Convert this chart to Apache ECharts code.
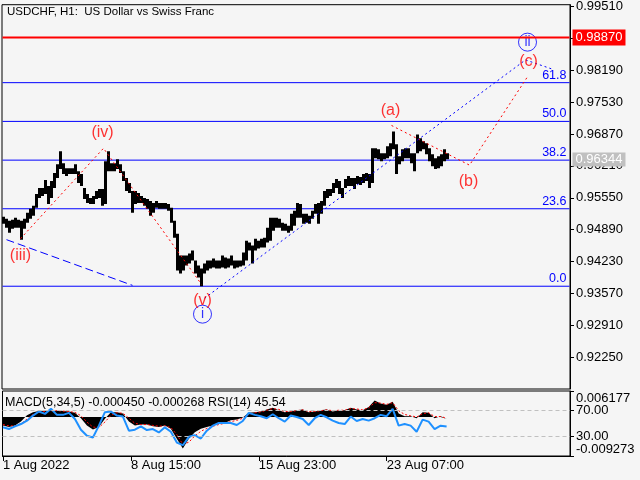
<!DOCTYPE html>
<html><head><meta charset="utf-8">
<script src="https://cdn.jsdelivr.net/npm/echarts@6/dist/echarts.min.js"></script>
<style>html,body{margin:0;padding:0;background:#f5f5f5}#c{width:640px;height:480px}</style>
</head><body><div id="c"></div>
<script>
// ---- time axis ----
const timeTickLabels = ['1 Aug 2022', '8 Aug 15:00', '15 Aug 23:00', '23 Aug 07:00'];
const timeTickHours = [0, 128, 256, 384];
const totalHours = 568;
const barStepHours = 3;      // each drawn price bar covers 3 H1 bars
const indicatorStepHours = 6;

// ---- price (high / low of each 3-hour block) ----
const highs = [
0.95156,0.95114,0.95073,0.95094,0.95135,0.95094,0.95073,0.95114,0.95238,0.95320,
0.95382,0.95629,0.95752,0.95752,0.95917,0.95793,0.95896,0.96060,0.96245,0.96513,
0.96266,0.96163,0.96163,0.96163,0.96245,0.96101,0.96040,0.95752,0.95629,0.95546,
0.95588,0.95690,0.95731,0.95731,0.96307,0.96513,0.96266,0.96266,0.96348,0.96245,
0.96101,0.95958,0.95855,0.95690,0.95690,0.95649,0.95588,0.95546,0.95526,0.95484,
0.95443,0.95484,0.95443,0.95443,0.95443,0.95423,0.95341,0.95073,0.94806,0.94353,
0.94353,0.94353,0.94395,0.94456,0.94251,0.94148,0.94086,0.94189,0.94251,0.94251,
0.94292,0.94251,0.94251,0.94353,0.94312,0.94292,0.94353,0.94251,0.94251,0.94251,
0.94415,0.94662,0.94621,0.94559,0.94703,0.94662,0.94703,0.94724,0.94929,0.95135,
0.95135,0.95135,0.95114,0.95032,0.95012,0.94970,0.95217,0.95279,0.95443,0.95423,
0.95217,0.95217,0.95176,0.95279,0.95423,0.95443,0.95484,0.95690,0.95731,0.95731,
0.95855,0.95937,0.95896,0.95752,0.95937,0.95999,0.95958,0.95958,0.95999,0.95978,
0.96040,0.96060,0.96040,0.96574,0.96574,0.96554,0.96471,0.96471,0.96615,0.96677,
0.96924,0.96656,0.96410,0.96554,0.96574,0.96574,0.96471,0.96471,0.96862,0.96780,
0.96718,0.96677,0.96574,0.96451,0.96369,0.96410,0.96451,0.96554,0.96471];
const lows = [
0.95012,0.94929,0.94826,0.94909,0.94929,0.94929,0.94682,0.94909,0.95032,0.95114,
0.95176,0.95341,0.95546,0.95588,0.95629,0.95423,0.95546,0.95752,0.95958,0.96143,
0.96040,0.95999,0.96040,0.96040,0.96040,0.95855,0.95793,0.95526,0.95443,0.95423,
0.95423,0.95526,0.95546,0.95382,0.95423,0.96101,0.96101,0.96101,0.96143,0.96060,
0.95896,0.95690,0.95649,0.95238,0.95423,0.95443,0.95443,0.95382,0.95320,0.95176,
0.95238,0.95341,0.95320,0.95320,0.95320,0.95279,0.95032,0.94724,0.94045,0.93983,
0.94045,0.94148,0.94189,0.94251,0.93983,0.93901,0.93716,0.93983,0.94045,0.94086,
0.94107,0.94086,0.94086,0.94107,0.94086,0.94107,0.94148,0.94086,0.94107,0.94127,
0.94148,0.94251,0.94456,0.94189,0.94456,0.94497,0.94518,0.94518,0.94621,0.94662,
0.94868,0.94929,0.94929,0.94868,0.94868,0.94826,0.94868,0.94970,0.95135,0.95135,
0.95012,0.95032,0.95012,0.95114,0.95217,0.95012,0.95217,0.95382,0.95546,0.95588,
0.95649,0.95752,0.95629,0.95546,0.95752,0.95793,0.95793,0.95731,0.95834,0.95814,
0.95855,0.95896,0.95752,0.95855,0.96369,0.96348,0.96307,0.96348,0.96369,0.96410,
0.96554,0.96040,0.96245,0.96307,0.96369,0.96369,0.96266,0.96101,0.96471,0.96513,
0.96554,0.96451,0.96307,0.96204,0.96143,0.96163,0.96204,0.96307,0.96348];

// ---- indicators (one value every 6 hours) ----
const macdMain = [
-0.0020,-0.0024,-0.0020,-0.0011,0.0004,0.0011,0.0014,0.0015,0.0016,0.0015,
0.0014,0.0013,0.0010,-0.0003,-0.0020,-0.0030,-0.0024,-0.0004,0.0011,0.0011,
0.0008,-0.0011,-0.0020,-0.0018,-0.0018,-0.0022,-0.0024,-0.0020,-0.0028,-0.0052,
-0.0075,-0.0052,-0.0036,-0.0028,-0.0024,-0.0020,-0.0016,-0.0014,-0.0008,-0.0006,
-0.0001,0.0010,0.0011,0.0013,0.0018,0.0022,0.0016,0.0011,0.0013,0.0016,
0.0018,0.0011,0.0013,0.0016,0.0018,0.0013,0.0016,0.0016,0.0022,0.0018,
0.0016,0.0024,0.0039,0.0032,0.0029,0.0036,0.0008,0.0002,0.0002,-0.0003,
0.0011,0.0010,-0.0003,0.0002,-0.00045];
const macdSignal = [
-0.0018,-0.0021,-0.0021,-0.0016,-0.0005,0.0006,0.0011,0.0013,0.0015,0.0015,
0.0014,0.0013,0.0011,0.0003,-0.0012,-0.0024,-0.0025,-0.0012,0.0004,0.0010,
0.0009,-0.0003,-0.0015,-0.0018,-0.0018,-0.0020,-0.0022,-0.0021,-0.0025,-0.0042,
-0.0065,-0.0060,-0.0045,-0.0034,-0.0027,-0.0022,-0.0018,-0.0015,-0.0011,-0.0008,
-0.0003,0.0006,0.0010,0.0012,0.0016,0.0020,0.0018,0.0013,0.0013,0.0015,
0.0017,0.0013,0.0013,0.0015,0.0017,0.0015,0.0016,0.0016,0.0020,0.0019,
0.0017,0.0022,0.0034,0.0033,0.0030,0.0034,0.0015,0.0006,0.0003,0.0000,
0.0008,0.0010,0.0001,0.0001,-0.000268];
const rsi = [
44.1,41.5,45.6,49.2,54.4,62.2,68.4,64.8,72.6,63.3,
63.3,66.4,57.0,40.4,31.1,28.5,46.7,67.4,68.4,62.2,
60.7,38.9,40.4,45.6,39.9,41.5,36.3,44.1,37.3,20.7,
16.6,29.5,32.1,26.9,38.9,46.7,50.8,50.8,50.8,47.7,
53.9,66.4,63.3,61.2,58.1,64.3,58.1,52.9,62.2,60.1,
57.0,47.7,58.1,63.3,59.6,54.4,50.8,49.2,60.7,53.9,
57.0,54.4,58.1,63.3,61.2,72.6,46.7,49.2,46.7,37.3,
56.0,52.9,41.5,46.7,45.54];

// ---- axis ticks and levels ----
const priceTicks = [0.9225,0.9291,0.9357,0.9423,0.9489,0.9555,0.9621,0.9687,0.9753,0.9819,0.9885,0.9951];
const priceMin = 0.9159, priceMax = 0.99547;
const rsiLevels = [30, 70];
const macdMin = -0.009273, macdMax = 0.006177;
const fibNames = ['0.0', '23.6', '38.2', '50.0', '61.8'];
const fibPrices = [0.93718, 0.95322, 0.96329, 0.97131, 0.97933];
const resistancePrice = 0.98870;
const lastPrice = 0.96344;

// ---- wave annotations: [hour index, price] ----
const impulseWave = [[18, 0.94703], [101, 0.96574], [199, 0.93757]];
const correctionWave = [[389, 0.97047], [467, 0.96225], [525, 0.98055]];
const waveIIPath = [[202, 0.93469], [523, 0.98404], [549, 0.98219]];
const channelLine = [[4, 0.94682], [130, 0.93736]];
const waveTexts = ['(iii)', '(iv)', '(v)', '(a)', '(b)', '(c)'];
const waveTextHours = [18, 100, 200, 388, 466, 526];
const waveTextPrices = [0.94354, 0.96903, 0.93428, 0.97355, 0.95875, 0.98363];
const circledTexts = ['i', 'ii'];
const circledHours = [200, 525];
const circledPrices = [0.93140, 0.98772];

const FONT = 'Liberation Sans, Arial, sans-serif';
const cats = new Array(totalHours).fill('');
timeTickHours.forEach((h, k) => { cats[h] = timeTickLabels[k]; });
const barData = highs.map((h, i) => [i * barStepHours, h, lows[i]]);
const toInd = arr => arr.map((v, i) => [i * indicatorStepHours, v]);
const flatLine = p => [[0, p], [totalHours - 1, p]];

const chart = echarts.init(document.getElementById('c'), null, {renderer: 'canvas'});
const levelSeries = [];
levelSeries.push({type: 'line', xAxisIndex: 0, yAxisIndex: 0, data: flatLine(lastPrice), symbol: 'none', silent: true, z: 0,
  lineStyle: {width: 0, color: 'rgba(0,0,0,0)'}, itemStyle: {color: 'rgba(0,0,0,0)'},
  endLabel: {show: true, formatter: lastPrice.toFixed(5), color: '#fff', backgroundColor: '#c0c0c0',
             padding: [1, 3, 0, 3], fontSize: 13, fontFamily: FONT, distance: 3}});
fibPrices.forEach((p, k) => {
  levelSeries.push({type: 'line', xAxisIndex: 0, yAxisIndex: 0, data: flatLine(p), symbol: 'none', silent: true, z: 1,
    lineStyle: {color: '#0000ff', width: 1},
    endLabel: {show: true, formatter: fibNames[k], color: '#0000ff', fontSize: 12.5, fontFamily: FONT,
               align: 'right', verticalAlign: 'bottom', offset: [-3, -1], distance: 0}});
});
levelSeries.push({type: 'line', xAxisIndex: 0, yAxisIndex: 0, data: flatLine(resistancePrice), symbol: 'none', silent: true, z: 6,
  lineStyle: {color: '#ff0000', width: 2},
  endLabel: {show: true, formatter: resistancePrice.toFixed(5), color: '#fff', backgroundColor: '#ff0000',
             padding: [2, 3, 1, 3], fontSize: 13, fontFamily: FONT, distance: 3}});

const option = {
  animation: false,
  backgroundColor: '#f5f5f5',
  textStyle: {fontFamily: FONT},
  title: [
    {text: 'USDCHF, H1:  US Dollar vs Swiss Franc', left: 7, top: 6, padding: 0,
     textStyle: {fontSize: 11.5, fontWeight: 'normal', color: '#000', fontFamily: FONT}},
    {text: 'MACD(5,34,5) -0.000450 -0.000268 RSI(14) 45.54', left: 5, top: 396, padding: 0,
     textStyle: {fontSize: 12.5, fontWeight: 'normal', color: '#000', fontFamily: FONT}}
  ],
  grid: [
    {left: 2, right: 70, top: 2, height: 387, show: true, borderColor: '#000', borderWidth: 1},
    {left: 2, right: 70, top: 391, height: 65, show: true, borderColor: '#000', borderWidth: 1}
  ],
  xAxis: [
    {type: 'category', gridIndex: 0, data: cats, boundaryGap: true, show: false},
    {type: 'category', gridIndex: 1, data: cats, boundaryGap: true,
     axisLine: {show: true, lineStyle: {color: '#000'}},
     axisTick: {show: true, alignWithLabel: true, interval: (i, v) => v !== '', length: 5, lineStyle: {color: '#000'}},
     axisLabel: {show: true, interval: (i, v) => v !== '', align: 'left', margin: 3, fontSize: 13, color: '#000', fontFamily: FONT},
     splitLine: {show: false}}
  ],
  yAxis: [
    {type: 'value', gridIndex: 0, position: 'right', min: priceMin, max: priceMax,
     axisLine: {show: true, lineStyle: {color: '#000'}},
     axisTick: {show: true, customValues: priceTicks, length: 4, lineStyle: {color: '#000'}},
     axisLabel: {customValues: priceTicks, formatter: v => v.toFixed(5), fontSize: 13, color: '#000', margin: 6, fontFamily: FONT},
     splitLine: {show: false}},
    {type: 'value', gridIndex: 1, position: 'right', min: 0, max: 100,
     axisLine: {show: true, lineStyle: {color: '#000'}},
     axisTick: {show: true, customValues: rsiLevels, length: 4, lineStyle: {color: '#000'}},
     axisLabel: {customValues: rsiLevels, formatter: v => v.toFixed(2), fontSize: 13, color: '#000', margin: 6, fontFamily: FONT},
     splitLine: {show: false}},
    {type: 'value', gridIndex: 1, position: 'right', min: macdMin, max: macdMax,
     axisLine: {show: false},
     axisTick: {show: true, customValues: [macdMin, macdMax], length: 4, lineStyle: {color: '#000'}},
     axisLabel: {customValues: [macdMin, macdMax], fontSize: 13, color: '#000', margin: 6, fontFamily: FONT,
       formatter: v => v > 0 ? '{t|' + v.toFixed(6) + '}' : '{b|' + v.toFixed(6) + '}',
       rich: {t: {padding: [14, 0, 0, 0], fontSize: 13, fontFamily: FONT}, b: {padding: [0, 0, 14, 0], fontSize: 13, fontFamily: FONT}}},
     splitLine: {show: false}}
  ],
  series: levelSeries.concat([
    {type: 'custom', xAxisIndex: 0, yAxisIndex: 0, data: barData, encode: {x: 0, y: [1, 2]}, clip: true, z: 3,
     renderItem: (params, api) => {
       const c = api.value(0);
       const p1 = api.coord([c, api.value(1)]);
       const p2 = api.coord([c, api.value(2)]);
       const bw = api.size([1, 0])[0];
       return {type: 'rect', shape: {x: p1[0] - bw / 2, y: p1[1], width: bw * barStepHours, height: Math.max(1, p2[1] - p1[1])},
               style: {fill: '#000'}};
     }},
    {type: 'line', xAxisIndex: 0, yAxisIndex: 0, data: impulseWave, symbol: 'none', silent: true, z: 4,
     lineStyle: {color: '#ff0000', width: 1, type: [2, 3]}},
    {type: 'line', xAxisIndex: 0, yAxisIndex: 0, data: correctionWave, symbol: 'none', silent: true, z: 4,
     lineStyle: {color: '#ff0000', width: 1, type: [2, 3]}},
    {type: 'line', xAxisIndex: 0, yAxisIndex: 0, data: waveIIPath, symbol: 'none', silent: true, z: 4,
     lineStyle: {color: '#0000ff', width: 1, type: [2, 3]}},
    {type: 'line', xAxisIndex: 0, yAxisIndex: 0, data: channelLine, symbol: 'none', silent: true, z: 4,
     lineStyle: {color: '#0000ff', width: 1, type: [8, 4]}},
    {type: 'scatter', xAxisIndex: 0, yAxisIndex: 0, silent: true, z: 5,
     data: waveTexts.map((t, k) => [waveTextHours[k], waveTextPrices[k]]),
     symbolSize: 1, itemStyle: {color: 'rgba(0,0,0,0)'},
     label: {show: true, position: 'inside', formatter: p => waveTexts[p.dataIndex], color: '#ff0000', fontSize: 16, fontFamily: FONT}},
    {type: 'scatter', xAxisIndex: 0, yAxisIndex: 0, silent: true, z: 5,
     data: circledTexts.map((t, k) => [circledHours[k], circledPrices[k]]),
     symbol: 'circle', symbolSize: 18, itemStyle: {color: 'rgba(0,0,0,0)', borderColor: '#0000ff', borderWidth: 1},
     label: {show: true, position: 'inside', formatter: p => circledTexts[p.dataIndex], color: '#0000ff', fontSize: 14, fontFamily: FONT}},
    {type: 'line', xAxisIndex: 1, yAxisIndex: 2, data: toInd(macdMain), symbol: 'none', silent: true, z: 2,
     lineStyle: {width: 0, opacity: 0}, areaStyle: {color: '#000', opacity: 1}},
    {type: 'line', xAxisIndex: 1, yAxisIndex: 2, data: toInd(macdSignal), symbol: 'none', silent: true, z: 3,
     lineStyle: {color: '#ff0000', width: 1, type: [2, 2]}},
    {type: 'line', xAxisIndex: 1, yAxisIndex: 1, data: toInd(rsi), symbol: 'none', silent: true, z: 4,
     lineStyle: {color: '#1e90ff', width: 2},
     markLine: {silent: true, symbol: ['none', 'none'], label: {show: false},
       data: rsiLevels.map(v => ({yAxis: v})), lineStyle: {color: '#c0c0c0', type: [4, 3], width: 1}}}
  ])
};
chart.setOption(option);
</script>
</body></html>
